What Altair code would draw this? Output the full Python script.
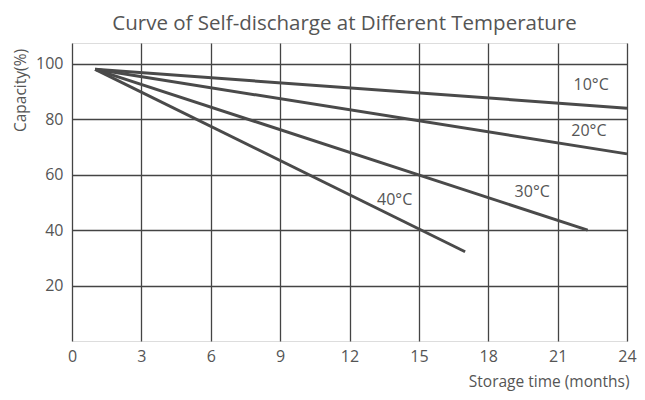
import altair as alt
import pandas as pd

# Data
series = ["10°C", "20°C", "30°C", "40°C"]
start_month = [1, 1, 1, 1]
start_capacity = [98, 98, 98, 98]
end_month = [24, 24, 22.3, 17]
end_capacity = [84, 67.5, 40, 32.2]

label_text = ["10°C", "20°C", "30°C", "40°C"]
label_month = [22.45, 22.35, 19.9, 13.95]
label_capacity = [92.3, 75.8, 53.6, 50.9]

x_ticks = [0, 3, 6, 9, 12, 15, 18, 21, 24]
y_ticks = [20, 40, 60, 80, 100]

rows = []
for s, m0, c0, m1, c1 in zip(series, start_month, start_capacity, end_month, end_capacity):
    rows.append({"series": s, "month": m0, "capacity": c0, "order": 0})
    rows.append({"series": s, "month": m1, "capacity": c1, "order": 1})
lines_df = pd.DataFrame(rows)
labels_df = pd.DataFrame({"text": label_text, "month": label_month, "capacity": label_capacity})

FONT = "Open Sans"
TXT = "#555555"
GRID = "#444444"

W = 555
H = 298
x_scale = alt.Scale(domain=[0, 24], nice=False, zero=False)
y_scale = alt.Scale(domain=[0, 107.5], nice=False)

x_axis = alt.Axis(
    values=x_ticks, grid=True, gridColor=GRID, gridWidth=1.3, gridOpacity=1,
    ticks=False, domain=False, labelFontSize=16, labelColor=TXT, labelFont=FONT,
    labelPadding=7, title="Storage time (months)", titleFont=FONT, titleFontSize=15.5,
    titleFontWeight="normal", titleColor=TXT, titleX=W + 2, titleY=40,
    titleAlign="right", titleBaseline="middle", labelFlush=False,
)
y_axis = alt.Axis(
    values=y_ticks, grid=True, gridColor=GRID, gridWidth=1.3, gridOpacity=1,
    ticks=False, domain=False, labelFontSize=16, labelColor=TXT, labelFont=FONT,
    labelPadding=9, title="Capacity(%)", titleFont=FONT, titleFontSize=15.5,
    titleFontWeight="normal", titleColor=TXT, titleX=-52, titleY=47,
    titleAngle=-90, titleAlign="center", titleBaseline="middle",
)

lines = alt.Chart(lines_df).mark_line(color="#4a4a4a", strokeWidth=3).encode(
    x=alt.X("month:Q", scale=x_scale, axis=x_axis),
    y=alt.Y("capacity:Q", scale=y_scale, axis=y_axis),
    detail="series:N",
    order="order:Q",
)

labels = alt.Chart(labels_df).mark_text(
    font=FONT, fontSize=16, color=TXT, align="center", baseline="middle"
).encode(
    x=alt.X("month:Q", scale=x_scale),
    y=alt.Y("capacity:Q", scale=y_scale),
    text="text:N",
)

chart = alt.layer(lines, labels).properties(
    width=W,
    height=H,
    title=alt.TitleParams(
        "Curve of Self-discharge at Different Temperature",
        font=FONT, fontSize=20.5, fontWeight="normal", color=TXT,
        anchor="middle", dx=-5, offset=9,
    ),
    autosize=alt.AutoSizeParams(type="none"),
    padding={"left": 64, "top": 35, "right": 10, "bottom": 50},
).configure_view(stroke=GRID, strokeWidth=1.3).configure(background="white")

chart.save("out.html", embed_options={"renderer": "svg", "actions": False})
